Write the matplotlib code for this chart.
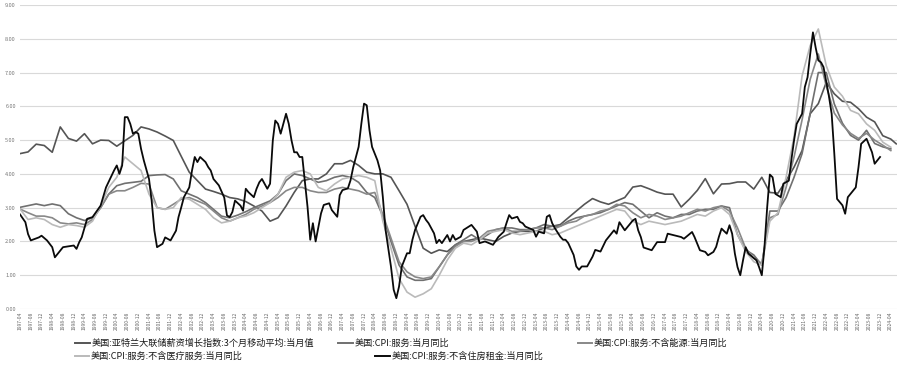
import matplotlib
matplotlib.use('Agg')
import matplotlib.pyplot as plt
import matplotlib.dates as mdates
from matplotlib.lines import Line2D
from matplotlib.ticker import FormatStrFormatter
import pandas as pd

plt.rcParams['font.family'] = ['Noto Sans CJK SC', 'DejaVu Sans']

# quarterly grid used by the four smoother series
q_dates = pd.date_range('1997-04-01', '2024-04-01', freq='3MS')

wage_vals = [4.60, 4.65, 4.88, 4.84, 4.64, 5.39, 5.05, 4.97, 5.19, 4.89,
             5.00, 4.99, 4.82, 4.98, 5.14, 5.39, 5.33, 5.24, 5.12, 4.99,
             4.52, 4.05, 3.80, 3.55, 3.48, 3.40, 3.30, 3.26, 3.18, 3.05,
             2.90, 2.60, 2.70, 3.05, 3.45, 3.80, 3.85, 3.85, 4.00, 4.30,
             4.30, 4.40, 4.25, 4.05, 4.00, 4.00, 3.90, 3.50, 3.10, 2.45,
             1.80, 1.65, 1.75, 1.70, 1.90, 2.00, 2.05, 2.10, 2.05, 2.00,
             2.15, 2.25, 2.30, 2.30, 2.30, 2.40, 2.45, 2.50, 2.70, 2.90,
             3.10, 3.27, 3.17, 3.10, 3.20, 3.30, 3.61, 3.65, 3.56, 3.46,
             3.40, 3.40, 3.02, 3.25, 3.51, 3.86, 3.41, 3.70, 3.71, 3.76,
             3.76, 3.55, 3.90, 3.45, 3.43, 3.80, 4.20, 4.69, 5.78, 6.08,
             6.71, 6.37, 6.15, 6.12, 5.93, 5.68, 5.54, 5.13, 5.03]
wage_last = ('2024-06-01', 4.89)

serv_vals = [3.01, 3.06, 3.11, 3.06, 3.11, 3.06, 2.82, 2.70, 2.62, 2.70,
             3.00, 3.40, 3.65, 3.72, 3.75, 3.78, 3.95, 3.97, 3.98, 3.85,
             3.50, 3.40, 3.30, 3.15, 2.95, 2.75, 2.70, 2.78, 2.88, 3.00,
             3.10, 3.20, 3.40, 3.80, 4.00, 3.95, 3.85, 3.75, 3.80, 3.90,
             3.95, 3.90, 3.75, 3.45, 3.30, 2.75, 2.00, 1.30, 0.95, 0.85,
             0.85, 0.90, 1.25, 1.60, 1.90, 2.05, 2.20, 2.05, 2.20, 2.35,
             2.40, 2.40, 2.35, 2.35, 2.40, 2.50, 2.45, 2.45, 2.60, 2.70,
             2.75, 2.80, 2.85, 2.95, 3.05, 3.15, 3.10, 2.90, 2.70, 2.85,
             2.75, 2.70, 2.80, 2.80, 2.90, 2.95, 2.95, 3.05, 3.00, 2.20,
             1.75, 1.60, 1.30, 2.90, 2.90, 3.30, 3.90, 4.60, 5.80, 7.00,
             7.00, 6.07, 5.50, 5.14, 5.00, 5.29, 4.90, 4.80, 4.74]

exen_vals = [2.96, 2.85, 2.75, 2.75, 2.70, 2.55, 2.52, 2.55, 2.50, 2.65,
             3.00, 3.40, 3.50, 3.50, 3.60, 3.72, 3.70, 3.00, 2.95, 3.10,
             3.25, 3.30, 3.20, 3.10, 2.90, 2.70, 2.60, 2.70, 2.80, 2.95,
             3.05, 3.15, 3.30, 3.50, 3.60, 3.60, 3.50, 3.45, 3.45, 3.55,
             3.60, 3.55, 3.50, 3.40, 3.45, 2.80, 2.10, 1.40, 1.10, 0.95,
             0.90, 0.95, 1.25, 1.60, 1.85, 2.00, 2.00, 2.10, 2.30, 2.35,
             2.40, 2.30, 2.30, 2.35, 2.40, 2.40, 2.35, 2.45, 2.55, 2.60,
             2.75, 2.80, 2.90, 2.95, 3.10, 3.05, 2.85, 2.70, 2.80, 2.75,
             2.65, 2.70, 2.75, 2.85, 2.95, 2.90, 3.00, 3.05, 2.90, 2.40,
             1.80, 1.50, 1.35, 2.70, 2.80, 3.60, 4.50, 5.60, 6.80, 7.55,
             6.60, 5.80, 5.45, 5.20, 5.05, 5.20, 5.00, 4.85, 4.69]

exmed_vals = [2.96, 2.65, 2.70, 2.65, 2.50, 2.42, 2.50, 2.47, 2.42, 2.60,
              3.05, 3.60, 3.90, 4.50, 4.30, 4.10, 3.40, 3.00, 2.95, 3.00,
              3.30, 3.25, 3.10, 2.95, 2.70, 2.55, 2.60, 2.70, 2.75, 2.85,
              3.00, 3.15, 3.40, 3.90, 4.05, 4.10, 4.00, 3.60, 3.50, 3.70,
              3.85, 3.90, 3.95, 3.90, 3.80, 2.60, 1.80, 0.90, 0.50, 0.35,
              0.45, 0.60, 1.00, 1.45, 1.80, 1.95, 1.90, 2.05, 2.25, 2.30,
              2.35, 2.25, 2.20, 2.25, 2.30, 2.30, 2.20, 2.25, 2.35, 2.45,
              2.55, 2.65, 2.75, 2.85, 2.95, 2.90, 2.60, 2.50, 2.60, 2.55,
              2.50, 2.55, 2.60, 2.70, 2.80, 2.75, 2.90, 3.00, 2.80, 2.20,
              1.70, 1.40, 1.30, 2.60, 2.85, 3.90, 5.10, 6.90, 7.80, 8.29,
              7.20, 6.57, 6.30, 5.88, 5.78, 5.48, 5.29, 4.94, 4.79]

rent_dates = ['1997-04', '1997-06', '1997-07', '1997-08', '1997-11', '1997-12', '1998-02', '1998-04',
              '1998-05', '1998-06', '1998-08', '1998-12', '1999-01', '1999-02', '1999-03', '1999-05',
              '1999-07', '1999-10', '1999-12', '2000-03', '2000-04', '2000-05', '2000-06', '2000-07',
              '2000-08', '2000-09', '2000-10', '2000-11', '2000-12', '2001-01', '2001-02', '2001-04',
              '2001-05', '2001-06', '2001-07', '2001-09', '2001-10', '2001-12', '2002-02', '2002-03',
              '2002-04', '2002-05', '2002-07', '2002-08', '2002-09', '2002-10', '2002-11', '2003-01',
              '2003-02', '2003-03', '2003-04', '2003-06', '2003-08', '2003-09', '2003-10', '2003-11',
              '2003-12', '2004-02', '2004-03', '2004-04', '2004-05', '2004-07', '2004-08', '2004-09',
              '2004-10', '2004-12', '2005-01', '2005-02', '2005-03', '2005-04', '2005-05', '2005-07',
              '2005-08', '2005-09', '2005-10', '2005-11', '2005-12', '2006-01', '2006-03', '2006-04',
              '2006-05', '2006-06', '2006-08', '2006-09', '2006-11', '2006-12', '2007-02', '2007-03',
              '2007-04', '2007-06', '2007-07', '2007-08', '2007-10', '2007-11', '2007-12', '2008-01',
              '2008-02', '2008-03', '2008-05', '2008-06', '2008-07', '2008-08', '2008-10', '2008-11',
              '2008-12', '2009-01', '2009-02', '2009-04', '2009-05', '2009-06', '2009-07', '2009-09',
              '2009-10', '2009-11', '2009-12', '2010-02', '2010-03', '2010-04', '2010-05', '2010-07',
              '2010-08', '2010-09', '2010-10', '2010-12', '2011-01', '2011-03', '2011-04', '2011-06',
              '2011-07', '2011-09', '2011-12', '2012-02', '2012-04', '2012-05', '2012-06', '2012-07',
              '2012-09', '2012-10', '2012-11', '2012-12', '2013-03', '2013-04', '2013-05', '2013-07',
              '2013-08', '2013-09', '2013-10', '2013-11', '2014-01', '2014-02', '2014-03', '2014-04',
              '2014-06', '2014-07', '2014-08', '2014-09', '2014-11', '2014-12', '2015-01', '2015-02',
              '2015-04', '2015-06', '2015-09', '2015-10', '2015-11', '2016-01', '2016-04', '2016-05',
              '2016-06', '2016-07', '2016-08', '2016-11', '2017-01', '2017-04', '2017-05', '2017-10',
              '2017-11', '2018-02', '2018-03', '2018-05', '2018-07', '2018-08', '2018-10', '2018-11',
              '2018-12', '2019-01', '2019-03', '2019-04', '2019-05', '2019-06', '2019-07', '2019-08',
              '2019-09', '2019-10', '2019-11', '2020-02', '2020-03', '2020-04', '2020-05', '2020-06',
              '2020-07', '2020-08', '2020-09', '2020-11', '2020-12', '2021-02', '2021-03', '2021-04',
              '2021-05', '2021-07', '2021-08', '2021-09', '2021-10', '2021-11', '2021-12', '2022-01',
              '2022-02', '2022-03', '2022-05', '2022-06', '2022-07', '2022-08', '2022-10', '2022-11',
              '2022-12', '2023-01', '2023-03', '2023-04', '2023-05', '2023-07', '2023-09', '2023-10',
              '2023-11', '2023-12']
rent_vals = [2.80, 2.57, 2.22, 2.03, 2.12, 2.17, 2.03, 1.83,
             1.53, 1.63, 1.83, 1.88, 1.78, 1.98, 2.12, 2.67,
             2.72, 3.06, 3.60, 4.10, 4.25, 4.00, 4.25, 5.68,
             5.68, 5.48, 5.19, 5.24, 5.19, 4.74, 4.40, 3.85,
             3.21, 2.32, 1.83, 1.93, 2.12, 2.03, 2.32, 2.72,
             3.01, 3.31, 3.60, 4.10, 4.50, 4.35, 4.50, 4.35,
             4.20, 4.10, 3.85, 3.66, 3.30, 2.77, 2.72, 2.87,
             3.21, 3.06, 2.91, 3.56, 3.46, 3.31, 3.56, 3.75,
             3.85, 3.56, 3.71, 4.99, 5.58, 5.48, 5.19, 5.78,
             5.48, 4.99, 4.64, 4.64, 4.50, 4.50, 3.03, 2.05,
             2.54, 2.00, 2.83, 3.08, 3.13, 2.93, 2.73, 3.37,
             3.52, 3.57, 3.81, 4.20, 4.80, 5.49, 6.08, 6.03,
             5.29, 4.80, 4.40, 4.10, 3.32, 2.34, 1.26, 0.57,
             0.32, 0.67, 1.26, 1.65, 1.65, 2.05, 2.34, 2.73,
             2.78, 2.64, 2.54, 2.24, 1.95, 2.05, 1.95, 2.19,
             2.00, 2.19, 2.05, 2.14, 2.34, 2.44, 2.49, 2.29,
             1.95, 2.00, 1.90, 2.14, 2.29, 2.54, 2.78, 2.68,
             2.73, 2.58, 2.54, 2.44, 2.34, 2.14, 2.29, 2.24,
             2.73, 2.78, 2.54, 2.39, 2.14, 2.05, 2.05, 1.95,
             1.60, 1.26, 1.16, 1.26, 1.26, 1.40, 1.55, 1.75,
             1.70, 2.03, 2.33, 2.23, 2.57, 2.33, 2.62, 2.67,
             2.33, 2.13, 1.82, 1.74, 1.98, 1.98, 2.23, 2.13,
             2.08, 2.28, 2.13, 1.74, 1.69, 1.59, 1.69, 1.84,
             2.13, 2.38, 2.23, 2.48, 2.23, 1.64, 1.24, 1.00,
             1.44, 1.83, 1.64, 1.44, 1.24, 1.00, 1.83, 3.02,
             3.98, 3.90, 3.41, 3.31, 3.71, 3.80, 4.40, 4.99,
             5.48, 5.78, 6.57, 6.86, 7.55, 8.19, 7.75, 7.36,
             7.30, 7.16, 6.30, 5.78, 4.60, 3.26, 3.07, 2.82,
             3.31, 3.41, 3.60, 4.20, 4.89, 5.04, 4.64, 4.30,
             4.40, 4.50]

labels = ['美国:亚特兰大联储薪资增长指数:3个月移动平均:当月值',
          '美国:CPI:服务:当月同比',
          '美国:CPI:服务:不含能源:当月同比',
          '美国:CPI:服务:不含医疗服务:当月同比',
          '美国:CPI:服务:不含住房租金:当月同比']
colors = ['#555555', '#707070', '#888888', '#bababa', '#0a0a0a']

fig = plt.figure(figsize=(9, 3.66), dpi=100)
ax = fig.add_axes([20 / 900, 1 - 309 / 366, 877 / 900, 304 / 366])

wage_x = list(q_dates) + [pd.Timestamp(wage_last[0])]
ax.plot(wage_x, wage_vals + [wage_last[1]], color=colors[0], lw=1.2)
ax.plot(q_dates, serv_vals, color=colors[1], lw=1.2)
ax.plot(q_dates, exen_vals, color=colors[2], lw=1.2)
ax.plot(q_dates, exmed_vals, color=colors[3], lw=1.2)
ax.plot(pd.to_datetime(rent_dates), rent_vals, color=colors[4], lw=1.3)

ax.set_ylim(0, 9)
ax.set_yticks(range(10))
ax.yaxis.set_major_formatter(FormatStrFormatter('%.2f'))
ax.set_xlim(pd.Timestamp('1997-04-01'), pd.Timestamp('2024-06-10'))
ticks = pd.date_range('1997-04-01', '2024-04-01', freq='4MS')
ax.set_xticks(ticks)
ax.xaxis.set_major_formatter(mdates.DateFormatter('%Y-%m'))
ax.tick_params(axis='x', labelsize=3.6, rotation=90, length=0, pad=2, colors='#666666')
ax.tick_params(axis='y', labelsize=4, length=0, pad=3, colors='#777777')
ax.grid(axis='y', color='#d9d9d9', lw=0.8)
ax.set_axisbelow(True)
for s in ax.spines.values():
    s.set_visible(False)

# legend laid out in two rows under the axis
rows = [(75, 90, 343), (338, 353, 343), (578, 592, 343), (75, 89, 356), (375, 390, 356)]
for (x0, x1, y), c, lab in zip(rows, colors, labels):
    fig.add_artist(Line2D([x0 / 900, x1 / 900], [1 - y / 366] * 2, color=c, lw=1.4,
                          transform=fig.transFigure))
    fig.text((x1 + 2) / 900, 1 - y / 366, lab, fontsize=6.6, va='center', ha='left',
             color='#1a1a1a')

fig.savefig('out.png', dpi=100)
